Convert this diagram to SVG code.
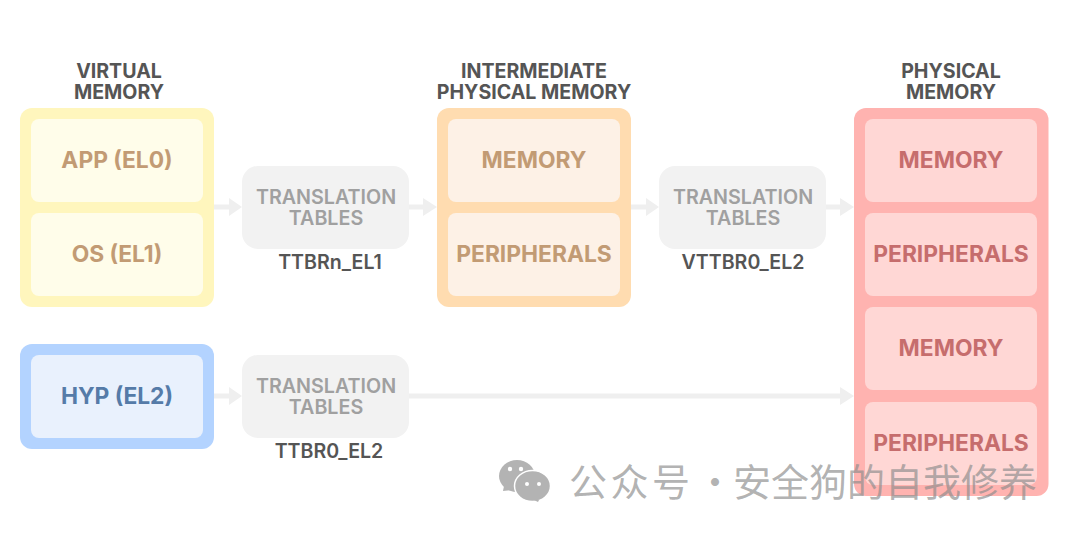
<svg xmlns="http://www.w3.org/2000/svg" width="1080" height="539" viewBox="0 0 1080 539">
<style>
text{font-family:Inter,"Liberation Sans","Noto Sans CJK SC",sans-serif;font-weight:700;text-anchor:middle}
.h{font-size:19.6px;fill:#555555}
.r{font-size:19.6px;fill:#555555;font-weight:600}
.l{font-size:22.8px}
.t{font-size:19.7px;fill:#a0a0a0;font-weight:600}
.i{rx:8px;ry:8px}
.o{rx:12px;ry:12px}
.y{fill:#c29b74}.p{fill:#c66d6d}
.c{stroke:#efefef;stroke-width:5;fill:none}
.a{fill:#efefef}
.w{font-size:38px;font-weight:400;fill:#8c8c8c;fill-opacity:.68;text-anchor:start;font-family:"Noto Sans CJK SC",sans-serif}
</style>
<rect width="1080" height="539" fill="#fff"/>
<g id="connectors">
<path class="c" d="M214 207H230"/><path class="a" d="M229 198L242 207L229 216Z"/>
<path class="c" d="M409 207H425"/><path class="a" d="M423 198L437 207L423 216Z"/>
<path class="c" d="M631 207H647"/><path class="a" d="M646 198L659 207L646 216Z"/>
<path class="c" d="M826 207H842"/><path class="a" d="M840 198L854 207L840 216Z"/>
<path class="c" d="M214 396H230"/><path class="a" d="M229 387L242 396L229 405Z"/>
<path class="c" d="M409 396H842"/><path class="a" d="M840 387L854 396L840 405Z"/>
</g>
<g id="virtual-memory">
<text class="h"><tspan x="119" y="78">VIRTUAL</tspan><tspan x="119" y="99">MEMORY</tspan></text>
<rect class="o" x="20" y="108" width="194" height="199" fill="#fff6bd"/>
<g id="app-el0"><rect class="i" x="31" y="119" width="172" height="83" fill="#fffdea"/><text class="l y" x="117" y="168">APP (EL0)</text></g>
<g id="os-el1"><rect class="i" x="31" y="213" width="172" height="83" fill="#fffdea"/><text class="l y" x="117" y="262">OS (EL1)</text></g>
</g>
<g id="tt1"><rect x="242" y="166" width="167" height="83" rx="16" fill="#f2f2f2"/><text class="t"><tspan x="326" y="204">TRANSLATION</tspan><tspan x="326" y="225">TABLES</tspan></text><text class="r" x="330" y="269">TTBRn_EL1</text></g>
<g id="ipa">
<text class="h"><tspan x="534" y="78">INTERMEDIATE</tspan><tspan x="534" y="99">PHYSICAL MEMORY</tspan></text>
<rect class="o" x="437" y="108" width="194" height="199" fill="#ffdcb0"/>
<g id="ipa-memory"><rect class="i" x="448" y="119" width="172" height="83" fill="#fdf1e6"/><text class="l y" x="534" y="168">MEMORY</text></g>
<g id="ipa-peripherals"><rect class="i" x="448" y="213" width="172" height="83" fill="#fdf1e6"/><text class="l y" x="534" y="262">PERIPHERALS</text></g>
</g>
<g id="tt2"><rect x="659" y="166" width="167" height="83" rx="16" fill="#f2f2f2"/><text class="t"><tspan x="743" y="204">TRANSLATION</tspan><tspan x="743" y="225">TABLES</tspan></text><text class="r" x="743" y="269">VTTBR0_EL2</text></g>
<g id="physical-memory">
<text class="h"><tspan x="951" y="78">PHYSICAL</tspan><tspan x="951" y="99">MEMORY</tspan></text>
<rect class="o" x="854" y="108" width="194.500" height="388" fill="#ffb3b0"/>
<g id="pa-memory-1"><rect class="i" x="865" y="119" width="172" height="83" fill="#ffd7d5"/><text class="l p" x="951" y="168">MEMORY</text></g>
<g id="pa-peripherals-1"><rect class="i" x="865" y="213" width="172" height="83" fill="#ffd7d5"/><text class="l p" x="951" y="262">PERIPHERALS</text></g>
<g id="pa-memory-2"><rect class="i" x="865" y="307" width="172" height="83" fill="#ffd7d5"/><text class="l p" x="951" y="356">MEMORY</text></g>
<g id="pa-peripherals-2"><rect class="i" x="865" y="402" width="172" height="83" fill="#ffd7d5"/><text class="l p" x="951" y="451">PERIPHERALS</text></g>
</g>
<g id="hyp">
<rect class="o" x="20" y="344" width="194" height="105" fill="#b3d3ff"/>
<g id="hyp-el2"><rect class="i" x="31" y="355" width="172" height="83" fill="#e9f1fd"/><text class="l" fill="#557ba8" x="117" y="404">HYP (EL2)</text></g>
</g>
<g id="tt3"><rect x="242" y="355" width="167" height="83" rx="16" fill="#f2f2f2"/><text class="t"><tspan x="326" y="393">TRANSLATION</tspan><tspan x="326" y="414">TABLES</tspan></text><text class="r" x="329" y="458">TTBR0_EL2</text></g>
<g id="watermark">
<ellipse cx="517" cy="476" rx="18" ry="16" fill="#b3b3b3"/>
<path d="M504 486L503 491L513 490Z" fill="#b3b3b3"/>
<ellipse cx="532.500" cy="486" rx="18" ry="15.500" fill="#b3b3b3" stroke="#fff" stroke-width="1.500"/>
<path d="M534 500L539 500L538 502Z" fill="#b3b3b3"/>
<circle cx="510" cy="469" r="2.200" fill="#fff"/><circle cx="521" cy="469" r="2.200" fill="#fff"/>
<circle cx="527" cy="484" r="2" fill="#fff"/><circle cx="539" cy="484" r="2" fill="#fff"/>
<text class="w" x="569" y="496" textLength="121" lengthAdjust="spacing">公众号</text>
<text class="w" x="696" y="496">·</text>
<text class="w" x="733" y="496" textLength="304" lengthAdjust="spacing">安全狗的自我修养</text>
</g>
</svg>
